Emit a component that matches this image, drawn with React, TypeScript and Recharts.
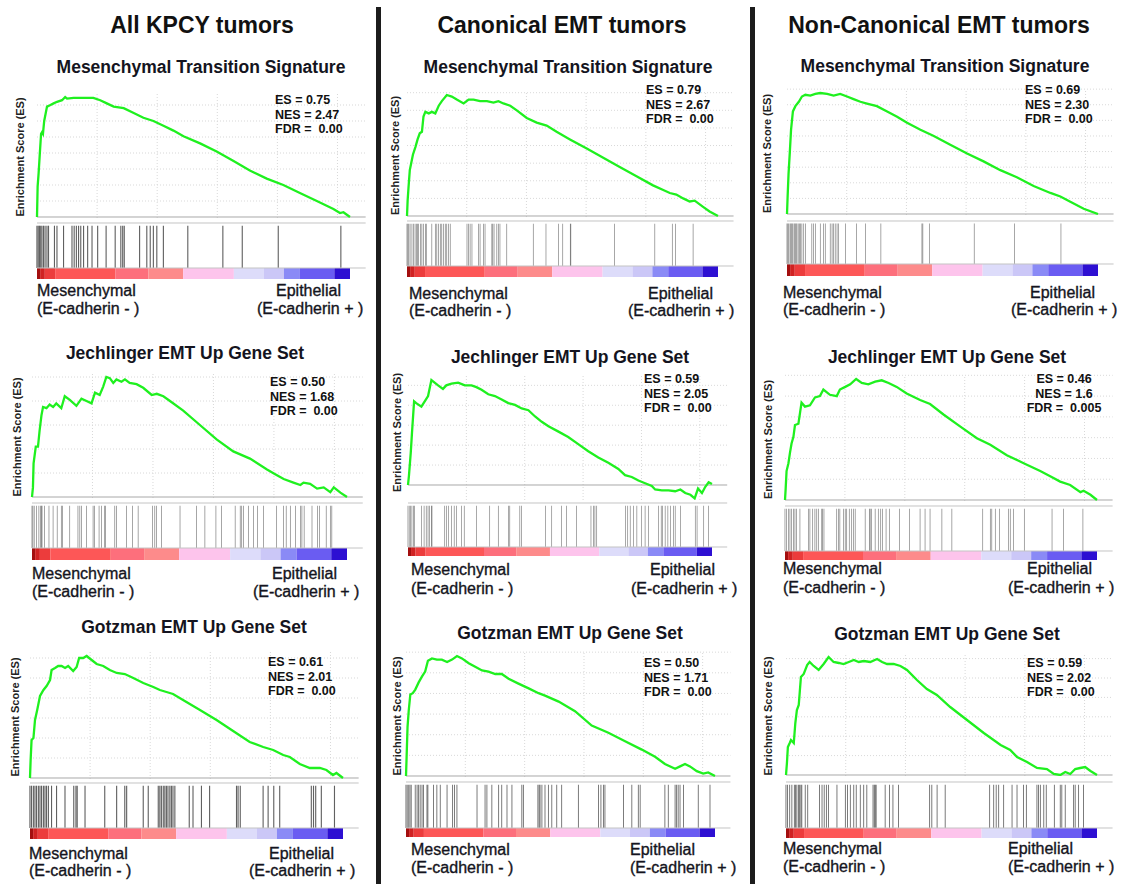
import React from 'react';
import { LineChart, Line, XAxis, YAxis, ReferenceLine, ComposedChart, Bar, ReferenceArea } from 'recharts';

const FONT = '"Liberation Sans", Arial, Helvetica, sans-serif';
const GREEN = '#1ff01f';
const X_MAX = 105; // rank axis runs a bit past the last gene

const COLUMN_TITLES = ['All KPCY tumors', 'Canonical EMT tumors', 'Non-Canonical EMT tumors'];
const GENE_SETS = ['Mesenchymal Transition Signature', 'Jechlinger EMT Up Gene Set', 'Gotzman EMT Up Gene Set'];

// stats per column, rows = gene sets
const ES_LABELS = [['0.75', '0.50', '0.61'], ['0.79', '0.59', '0.50'], ['0.69', '0.46', '0.59']];
const NES_LABELS = [['2.47', '1.68', '2.01'], ['2.67', '2.05', '1.71'], ['2.30', '1.6', '2.02']];
const FDR_LABELS = [['0.00', '0.00', '0.00'], ['0.00', '0.00', '0.00'], ['0.00', '0.005', '0.00']];

// running enrichment score: [rank %, ES]
const kpcyMts = [[0,0],[0.2,0.19],[0.5,0.27],[0.85,0.38],[1.3,0.52],[1.6,0.53],[1.9,0.52],[2.3,0.6],[3.2,0.69],[4.3,0.7],[5.3,0.71],[6.4,0.72],[8,0.73],[9,0.75],[9.6,0.74],[11.7,0.745],[13.8,0.745],[16,0.745],[18,0.744],[20.2,0.73],[22.3,0.71],[24.5,0.69],[27.7,0.68],[30.9,0.65],[34,0.62],[37.2,0.6],[40.4,0.57],[43.6,0.54],[46.8,0.505],[52.1,0.46],[57.4,0.41],[62.8,0.35],[68,0.29],[73.4,0.24],[78.7,0.2],[84,0.15],[89.4,0.1],[94.7,0.05],[96.8,0.025],[97.9,0.03],[100,0]];
const kpcyJech = [[0,0],[0.3,0.04],[0.5,0.14],[1.2,0.21],[1.9,0.21],[2.4,0.275],[3,0.34],[3.5,0.375],[4.6,0.37],[5.6,0.385],[6.7,0.375],[7.7,0.39],[9.3,0.37],[10.4,0.42],[12,0.405],[14.1,0.38],[15.7,0.41],[17.3,0.4],[18.9,0.39],[20,0.435],[21.5,0.425],[22.6,0.46],[23.6,0.5],[24.7,0.495],[25.8,0.475],[26.8,0.49],[28.4,0.48],[29.5,0.49],[31,0.475],[33.2,0.47],[35.3,0.455],[38,0.425],[39.6,0.43],[41.7,0.42],[43.8,0.4],[48,0.36],[53.3,0.3],[58.6,0.24],[63.9,0.19],[69.2,0.16],[74.6,0.115],[77.2,0.095],[79.9,0.075],[83,0.06],[85.2,0.05],[86.2,0.06],[88.3,0.055],[90.5,0.035],[92.6,0.04],[94.7,0.02],[95.8,0.04],[97.9,0.018],[100,0]];
const kpcyGotz = [[0,0],[0.2,0.09],[0.5,0.19],[1.1,0.2],[1.6,0.29],[2.3,0.34],[3.2,0.41],[4.3,0.44],[5.3,0.46],[6.4,0.49],[6.9,0.54],[8,0.55],[9,0.56],[10.1,0.56],[11.2,0.55],[12.2,0.56],[13.8,0.535],[14.9,0.555],[15.7,0.6],[17,0.6],[18.1,0.61],[19.7,0.59],[21.3,0.57],[23.4,0.56],[25.5,0.54],[27.7,0.525],[30.3,0.52],[33,0.5],[36.2,0.475],[39.4,0.455],[41.5,0.44],[43.6,0.43],[45.7,0.42],[48.9,0.39],[54.3,0.34],[59.6,0.29],[64.9,0.235],[70.2,0.18],[74.5,0.155],[77.7,0.14],[80.9,0.115],[83,0.105],[86.2,0.07],[89.4,0.05],[92.6,0.05],[94.7,0.04],[96.8,0.015],[97.9,0.025],[100,0]];
const canMts = [[0,0],[0.2,0.1],[0.5,0.19],[0.9,0.3],[1.3,0.34],[1.9,0.4],[2.7,0.45],[3.4,0.5],[4.1,0.54],[4.8,0.55],[5.3,0.65],[5.9,0.68],[7,0.67],[8,0.68],[9.1,0.67],[10.2,0.72],[11.2,0.75],[12.8,0.79],[14.4,0.78],[16,0.76],[18.2,0.735],[19.8,0.76],[21.4,0.76],[23.5,0.75],[25.7,0.75],[27.8,0.74],[29.4,0.75],[31,0.735],[33.2,0.72],[35.3,0.69],[38.5,0.64],[41.7,0.61],[44.9,0.59],[48.1,0.55],[52.4,0.5],[57.8,0.44],[63.1,0.38],[68.4,0.32],[73.8,0.26],[79.1,0.2],[82.4,0.17],[84.5,0.15],[86.6,0.14],[88.8,0.115],[90.9,0.095],[92.5,0.1],[95.2,0.06],[97.3,0.03],[100,0]];
const canJech = [[0,0],[0.3,0.05],[0.9,0.18],[1.3,0.29],[2,0.47],[2.7,0.46],[4.4,0.44],[5.5,0.47],[6.6,0.5],[7.7,0.59],[9.9,0.56],[11.5,0.54],[12.6,0.56],[14.3,0.57],[16.5,0.575],[18.7,0.56],[20.9,0.56],[22.5,0.55],[24.2,0.535],[26.4,0.51],[28.6,0.5],[30.8,0.48],[33,0.46],[35.2,0.45],[37.4,0.43],[39.6,0.42],[41.8,0.385],[44,0.355],[46.2,0.33],[49.5,0.3],[52.7,0.27],[56,0.23],[59.3,0.19],[62.6,0.155],[65.9,0.125],[69.2,0.09],[71.4,0.055],[73.6,0.045],[75.8,0.025],[78,0.01],[80.2,-0.005],[81.3,-0.025],[83.5,-0.03],[85.7,-0.03],[87.9,-0.035],[89.6,-0.025],[91.2,-0.045],[92.9,-0.055],[94.3,-0.075],[95.4,-0.02],[96.7,-0.045],[97.8,-0.01],[98.9,0.015],[100,0.005]];
const canGotz = [[0,0],[0.2,0.08],[0.5,0.205],[0.9,0.275],[1.4,0.34],[2.2,0.345],[3,0.36],[4.1,0.39],[5.2,0.415],[6.2,0.435],[7.1,0.48],[8.4,0.49],[10,0.485],[11.6,0.485],[13.3,0.475],[14.9,0.485],[16.5,0.5],[18.1,0.49],[20.3,0.47],[22.4,0.455],[24.6,0.44],[26.7,0.435],[28.9,0.425],[31,0.425],[33.2,0.405],[36.4,0.385],[39.7,0.365],[42.9,0.345],[45,0.335],[49.4,0.31],[54.7,0.27],[60.1,0.21],[65.5,0.18],[70.9,0.145],[76.3,0.11],[80.6,0.08],[83.8,0.05],[87.1,0.03],[88.7,0.04],[90.3,0.05],[91.9,0.04],[94.1,0.02],[96.2,0.01],[97.8,0.015],[100,0]];
const nonMts = [[0,0],[0.2,0.1],[0.5,0.23],[0.9,0.35],[1.3,0.48],[1.9,0.585],[2.7,0.615],[3.8,0.64],[4.8,0.67],[5.9,0.68],[7.5,0.675],[9.1,0.685],[10.7,0.69],[12.9,0.685],[15,0.675],[17.1,0.685],[19.3,0.67],[21.4,0.655],[23.6,0.64],[25.7,0.63],[28.9,0.615],[32.2,0.585],[35.4,0.555],[38.6,0.52],[42.9,0.48],[47.2,0.445],[52.5,0.395],[57.9,0.345],[63.2,0.3],[68.6,0.25],[73.9,0.21],[79.3,0.16],[84.7,0.12],[87.9,0.1],[91.1,0.07],[95.4,0.03],[100,0]];
const nonJech = [[0,0],[0.2,0.04],[0.5,0.11],[1.1,0.14],[1.6,0.18],[2.1,0.215],[2.7,0.24],[3.2,0.285],[4.3,0.29],[5.3,0.37],[6.4,0.355],[8,0.36],[9.6,0.39],[11.2,0.395],[12.3,0.42],[14.4,0.4],[16.6,0.395],[17.6,0.42],[19.3,0.43],[20.9,0.44],[22.8,0.46],[24.6,0.445],[26.7,0.44],[28.9,0.45],[31,0.455],[33.2,0.445],[35.8,0.43],[39,0.405],[43.3,0.38],[46.5,0.365],[50.8,0.325],[56.1,0.28],[61.5,0.235],[65.8,0.21],[71.1,0.17],[76.5,0.14],[81.8,0.11],[85,0.09],[88.2,0.07],[91.4,0.057],[94.7,0.03],[95.7,0.035],[97.9,0.02],[100,0]];
const nonGotz = [[0,0],[0.3,0.06],[0.6,0.14],[1.2,0.16],[1.6,0.175],[2.5,0.16],[3,0.26],[3.5,0.325],[4.1,0.35],[4.8,0.49],[5.7,0.505],[6.8,0.55],[7.6,0.565],[8.9,0.545],[10.5,0.525],[12.1,0.555],[13.7,0.59],[15.3,0.565],[17,0.56],[18.5,0.555],[20.2,0.565],[21.8,0.575],[23.4,0.565],[25,0.57],[27.1,0.565],[29.3,0.58],[30.9,0.565],[32.5,0.555],[34.6,0.555],[36.8,0.545],[38.9,0.525],[42.1,0.475],[45.3,0.43],[48.5,0.4],[52.8,0.34],[58.2,0.275],[63.6,0.21],[69,0.15],[72.1,0.125],[74.3,0.09],[77.5,0.065],[80.7,0.035],[83.9,0.03],[86.1,0.005],[88.2,0],[89.8,0.015],[91.4,0.005],[93,0.03],[94.6,0.035],[96.2,0.04],[97.9,0.02],[100,0]];

// positions of gene-set members in the ranked list (rank %)
const kpcyMtsHits = [0,0.4,0.8,1.2,1.6,2.1,2.6,3.2,3.7,5.6,6.4,8.5,11.2,11.9,12.6,13.3,14,14.9,16.2,17.6,19.4,22.1,25,26.8,27.4,27.9,32.8,35.1,36.2,37.2,38.3,40.4,48.2,59.4,65.6,77.1,97.1];
const kpcyJechHits = [0,0.3,0.7,1.4,2.2,2.7,3,3.2,4,5.4,6.7,8,9.3,9.7,12,14.6,15.2,15.7,17.3,19.4,19.9,21.3,22.1,23.1,23.4,26.3,26.8,30,31.9,33.7,38.3,39,39.6,41.1,47,52.3,54.9,58.4,60.2,64.5,66.1,66.6,67.1,68.7,70.3,71.6,73.5,77.7,79.9,80.7,82,83.6,85.2,85.7,86.4,88.9,90.7,91.3,93.4,94.7,95.2];
const kpcyGotzHits = [0,0.5,1.1,1.6,2.1,2.7,3.2,3.7,4.3,4.8,5.3,5.9,6.9,8.5,11.2,14,14.7,15.1,17.6,23.9,27.7,30.3,30.9,36.2,37.8,41,41.5,42,42.6,43.1,43.6,44.1,44.7,45.2,45.7,46.3,50.9,52.1,54.8,57.4,66,66.5,67.2,74.5,76.1,77.9,79.8,89.9,90.6,91.3,93.1,97.3];
const canMtsHits = [0,0.3,0.6,1,1.6,2.1,2.6,3,3.4,3.7,4.3,4.8,5.3,5.9,6.2,8,9.1,9.6,10.2,10.7,11.2,11.8,12.3,12.8,13.4,13.9,19.3,19.8,20.3,20.9,23,23.5,24.6,25.1,27.3,27.6,28,28.9,29.4,29.9,32.1,40.6,44.7,48.7,50.1,52.5,52.7,66.8,79.7,85.3,86.4,92];
const canJechHits = [0,0.4,0.9,1.3,1.8,2.2,4.4,5.3,6,6.6,7.1,7.7,7.9,12.1,12.6,13.4,14.3,15.2,15.9,17.6,18.5,22.5,26.9,29.7,33,33.5,36.8,37.4,45.3,47.3,50.5,52.2,55.5,60.2,61,61.5,62.1,71.6,72.3,73.1,74.2,75.3,76.9,78,79.1,82.4,83.3,83.7,84.6,85.5,86.3,87.4,87.9,89.6,94.5,95.1,97.3,98.9];
const canGotzHits = [0,0.4,0.9,1.3,1.7,3,3.6,4.1,4.6,5.2,5.7,6.8,7.1,8.9,10,11.1,13.3,15.1,15.7,16.5,23,25.6,26.2,27.8,30,31,32.7,34.3,37.5,38,42.7,43.1,43.4,44,45,46.1,47.2,48.8,50.4,55.8,62.3,63.1,63.9,64.4,70.4,73.1,75.2,75.8,83.8,84.9,87.1,87.6,88.1,88.7,89.8,94.6,98.4];
const nonMtsHits = [0,0.3,0.6,1,1.3,1.6,1.9,2.3,2.6,2.9,3.2,3.6,4.1,4.3,4.8,5.4,5.9,8,8.6,9.1,10.7,11.8,12.3,13.9,14.5,15,15.5,16.1,16.6,18.8,22.3,25.2,30.2,43.4,43.7,45.9,60.2,73.1,88.1];
const nonJechHits = [0,0.5,1.1,1.6,2.1,2.7,3.2,3.7,4.8,7.5,8,8.9,9.6,10.2,10.7,11.8,12.1,12.5,16.6,17.1,17.6,18.7,19.3,19.8,20.6,21.4,21.9,22.5,25.7,27.1,27.3,27.8,28.9,29.9,30.7,31.3,32.4,33.5,36.7,39.9,43.3,44.9,46.5,50.3,53.5,63.4,65.8,66.3,67.4,68.8,71.7,72.2,73.3,76.7,85.6,89.3,95.5];
const nonGotzHits = [0,0.5,1.2,1.9,2.7,3.1,3.5,4,4.4,4.8,5.1,6.2,7,10.8,11.6,12.3,13,13.7,16.4,19.1,19.8,20.7,21.8,22.6,23.9,25,26,28,28.4,28.7,29,31.9,33.3,34.4,36.2,46.2,46.9,48.6,51.2,65.5,66.8,67.6,68.4,70,72.7,74.3,76.4,77.3,80.7,81.2,81.8,82.9,83.7,86.3,88.2,88.7,89.8,92.5,93,94.1,95.7];

// ranked-list metric colour bar: [from %, to %, colour]
const RANK_BAR = [
  [0, 1, '#a30f0f'], [1, 2.5, '#d02222'], [2.5, 5.8, '#ec3c3c'], [5.8, 25, '#fd5757'],
  [25, 35.6, '#fd6f7c'], [35.6, 46.7, '#fd8b8b'], [46.7, 62.9, '#fdc4ec'], [62.9, 72.5, '#dddcfa'],
  [72.5, 78.9, '#cbc7f7'], [78.9, 84, '#8a8af6'], [84, 95, '#6a5cf2'], [95, 100, '#2d0fd2'],
];
const X_GRID = [19.2, 38.4, 57.6, 76.8, 96];

const CURVES = [[kpcyMts, kpcyJech, kpcyGotz], [canMts, canJech, canGotz], [nonMts, nonJech, nonGotz]];
const HITS = [[kpcyMtsHits, kpcyJechHits, kpcyGotzHits], [canMtsHits, canJechHits, canGotzHits], [nonMtsHits, nonJechHits, nonGotzHits]];

// page layout of each panel (pixels)
const LAYOUT = [
  [
    { left: 37, end: 350, zero: 217, peak: 97, bottom: 218, box: 223, cTop: 268, cBot: 279, step: 0.1, title: [201, 67], stats: [275, 100, 'start'], mes: [37, 290, 308], epi: [276, 257], ylab: 20 },
    { left: 32, end: 347, zero: 497, peak: 377, bottom: 498, box: 503, cTop: 548, cBot: 560, step: 0.1, title: [185, 353], stats: [270, 382, 'start'], mes: [32, 573, 591], epi: [272, 253], ylab: 17 },
    { left: 30, end: 343, zero: 778, peak: 656, bottom: 779, box: 783, cTop: 828, cBot: 839, step: 0.1, title: [194, 627], stats: [268, 662, 'start'], mes: [29, 853, 870], epi: [269, 249], ylab: 15 },
  ],
  [
    { left: 407, end: 718, zero: 216, peak: 95, bottom: 217, box: 221, cTop: 266, cBot: 277, step: 0.115, title: [568, 67], stats: [646, 90, 'start'], mes: [409, 293, 310], epi: [648, 628], ylab: 395 },
    { left: 408, end: 712, zero: 485, peak: 380, bottom: 500, box: 503, cTop: 547, cBot: 556, step: 0.112, title: [570, 357], stats: [644, 379, 'start'], mes: [411, 569, 588], epi: [650, 631], ylab: 397 },
    { left: 406, end: 715, zero: 776, peak: 656, bottom: 777, box: 782, cTop: 828, cBot: 837, step: 0.086, title: [570, 633], stats: [644, 663, 'start'], mes: [411, 849, 867], epi: [630, 630], ylab: 397 },
  ],
  [
    { left: 787, end: 1098, zero: 214, peak: 93, bottom: 215, box: 221, cTop: 264, cBot: 276, step: 0.089, title: [945, 66], stats: [1025, 90, 'start'], mes: [783, 292, 309], epi: [1030, 1011], ylab: 767 },
    { left: 785, end: 1097, zero: 500, peak: 379, bottom: 501, box: 506, cTop: 551, cBot: 560, step: 0.079, title: [947, 357], stats: [1064, 379, 'middle'], mes: [783, 568, 587], epi: [1027, 1008], ylab: 768 },
    { left: 786, end: 1097, zero: 775, peak: 657, bottom: 776, box: 782, cTop: 828, cBot: 838, step: 0.097, title: [947, 634], stats: [1027, 663, 'start'], mes: [783, 848, 866], epi: [1008, 1008], ylab: 768 },
  ],
];

function Panel({ col, row }: { col: number; row: number }) {
  const L = LAYOUT[col][row];
  const curve = CURVES[col][row].map(([r, es]) => ({ r, es }));
  const hits = HITS[col][row].map((r) => ({ r, v: 0.94 }));
  const esMax = Math.max(...curve.map((d) => d.es));
  const k = (L.zero - L.peak) / esMax;
  const top = L.peak - 4;
  const yMax = (L.zero - top) / k;
  const yMin = -(L.bottom - L.zero) / k;
  const w = (L.end - L.left) * X_MAX / 100;
  const gridY: number[] = [];
  for (let v = L.step; v <= yMax + 1e-6; v += L.step) gridY.push(+v.toFixed(4));
  const hitsH = L.cTop - L.box;
  const barMin = -(L.cBot - L.cTop) / hitsH;

  return (
    <>
      <div style={{ position: 'absolute', left: L.left - 2, top: top - 3 }}>
        <LineChart width={w + 4} height={L.bottom - top + 6} data={curve} margin={{ top: 3, right: 2, bottom: 3, left: 2 }}>
          <XAxis type="number" dataKey="r" domain={[0, X_MAX]} hide />
          <YAxis type="number" domain={[yMin, yMax]} hide allowDataOverflow />
          {gridY.map((v) => (
            <ReferenceLine key={'h' + v} y={v} stroke="#d8d8d8" strokeDasharray="1 2" />
          ))}
          {X_GRID.map((v) => (
            <ReferenceLine key={'v' + v} segment={[{ x: v, y: yMin }, { x: v, y: yMax }]} stroke="#d8d8d8" strokeDasharray="1 2" />
          ))}
          <ReferenceLine y={0} stroke="#a8a8a8" />
          <Line type="linear" dataKey="es" stroke={GREEN} strokeWidth={2.3} dot={false} isAnimationActive={false} />
        </LineChart>
      </div>
      <div style={{ position: 'absolute', left: L.left - 2, top: L.box - 1 }}>
        <ComposedChart width={w + 4} height={L.cBot - L.box + 2} data={hits} margin={{ top: 1, right: 2, bottom: 1, left: 2 }}>
          <XAxis type="number" dataKey="r" domain={[0, X_MAX]} hide />
          <YAxis type="number" domain={[barMin, 1]} hide />
          {RANK_BAR.map(([a, b, c]) => (
            <ReferenceArea key={String(a)} x1={a as number} x2={b as number} y1={barMin} y2={0} fill={c as string} fillOpacity={1} stroke="none" />
          ))}
          <ReferenceLine y={1} stroke="#c4c4c4" />
          <ReferenceLine y={0} stroke="#c4c4c4" />
          <Bar dataKey="v" barSize={1.5} fill="#000" fillOpacity={0.62} isAnimationActive={false} />
        </ComposedChart>
      </div>
    </>
  );
}

function Texts() {
  const items: React.ReactNode[] = [];
  const ink = '#141420';
  COLUMN_TITLES.forEach((t, c) => {
    const cx = [202, 562, 939][c];
    items.push(
      <text key={'ct' + c} x={cx} y={25} textAnchor="middle" dominantBaseline="central" fontSize={23} fontWeight="bold" fill="#111">{t}</text>
    );
  });
  for (let c = 0; c < 3; c++) {
    for (let r = 0; r < 3; r++) {
      const L = LAYOUT[c][r];
      const key = `${c}-${r}`;
      const [sx, sy, anchor] = L.stats as [number, number, string];
      const statStyle = { whiteSpace: 'pre' as const };
      items.push(
        <text key={'t' + key} x={L.title[0]} y={L.title[1]} textAnchor="middle" dominantBaseline="central" fontSize={17.5} fontWeight="bold" fill={ink}>{GENE_SETS[r]}</text>,
        <text key={'s1' + key} x={sx} y={sy} textAnchor={anchor} dominantBaseline="central" fontSize={12.5} fontWeight="bold" fill="#111" style={statStyle}>{`ES = ${ES_LABELS[c][r]}`}</text>,
        <text key={'s2' + key} x={sx} y={sy + 14.5} textAnchor={anchor} dominantBaseline="central" fontSize={12.5} fontWeight="bold" fill="#111" style={statStyle}>{`NES = ${NES_LABELS[c][r]}`}</text>,
        <text key={'s3' + key} x={sx} y={sy + 29} textAnchor={anchor} dominantBaseline="central" fontSize={12.5} fontWeight="bold" fill="#111" style={statStyle}>{`FDR =  ${FDR_LABELS[c][r]}`}</text>,
        <text key={'y' + key} transform={`translate(${L.ylab},${(L.peak + L.zero) / 2}) rotate(-90)`} textAnchor="middle" dominantBaseline="central" fontSize={11} fontWeight="bold" fill="#222">Enrichment Score (ES)</text>,
        <text key={'m1' + key} x={L.mes[0]} y={L.mes[1]} dominantBaseline="central" fontSize={16} fill={ink} stroke={ink} strokeWidth={0.35}>Mesenchymal</text>,
        <text key={'m2' + key} x={L.mes[0]} y={L.mes[2]} dominantBaseline="central" fontSize={16} fill={ink} stroke={ink} strokeWidth={0.35} style={statStyle}>(E-cadherin - )</text>,
        <text key={'e1' + key} x={L.epi[0]} y={L.mes[1]} dominantBaseline="central" fontSize={16} fill={ink} stroke={ink} strokeWidth={0.35}>Epithelial</text>,
        <text key={'e2' + key} x={L.epi[1]} y={L.mes[2]} dominantBaseline="central" fontSize={16} fill={ink} stroke={ink} strokeWidth={0.35} style={statStyle}>(E-cadherin + )</text>
      );
    }
  }
  return (
    <svg width={1125} height={884} style={{ position: 'absolute', left: 0, top: 0, pointerEvents: 'none', fontFamily: FONT }}>
      <rect x={376} y={7} width={5} height={877} fill="#1c1c1c" />
      <rect x={750} y={7} width={5} height={877} fill="#1c1c1c" />
      {items}
    </svg>
  );
}

export default function App() {
  return (
    <div style={{ position: 'absolute', left: 0, top: 0, width: 1125, height: 884, background: '#fff', fontFamily: FONT, overflow: 'hidden' }}>
      {[0, 1, 2].map((c) => [0, 1, 2].map((r) => <Panel key={`${c}${r}`} col={c} row={r} />))}
      <Texts />
    </div>
  );
}
